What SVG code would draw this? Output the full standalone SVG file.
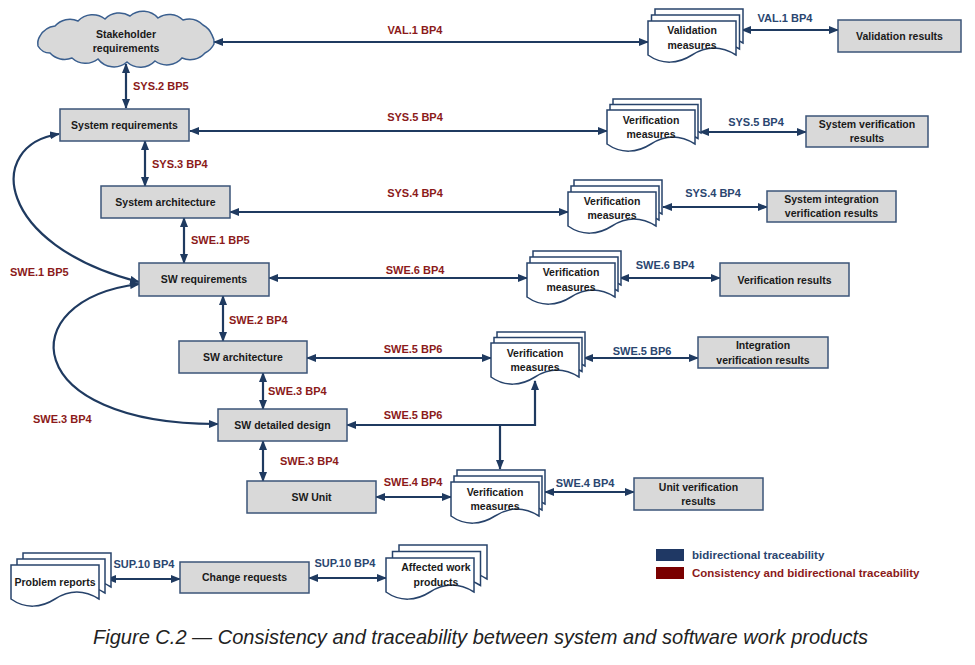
<svg xmlns="http://www.w3.org/2000/svg" xmlns:xlink="http://www.w3.org/1999/xlink" width="975" height="665" viewBox="0 0 975 665">
<style>
.box{fill:#d9d9d9;stroke:#3b5478;stroke-width:1.5}
.doc{fill:#fff;stroke:#27436b;stroke-width:1.5}
.n{font-family:"Liberation Sans",Arial,sans-serif;font-weight:bold;font-size:10.5px;fill:#1a1a1a;text-anchor:middle}
.l{font-family:"Liberation Sans",Arial,sans-serif;font-weight:bold;font-size:11px}
.r{fill:#8b1a1a}
.b{fill:#2a4670}
.m{text-anchor:middle}
.c{stroke:#1f3a60;stroke-width:2.2;fill:none}
.bi{marker-start:url(#ah);marker-end:url(#ah)}
.uni{marker-end:url(#ah)}
</style>
<defs>
<marker id="ah" viewBox="0 0 10 8" refX="9" refY="4" markerWidth="10" markerHeight="8" markerUnits="userSpaceOnUse" orient="auto-start-reverse">
<path d="M0,0 L10,4 L0,8 Z" fill="#1f3a60"/>
</marker>
<path id="docp" d="M0,0 H88 V34 C72,24 58,25 44,34 C30,43 14,44 0,34 Z"/>
</defs>
<rect width="975" height="665" fill="#fff"/>

<g id="connectors">
<path class="c bi" d="M126,64 V108"/>
<path class="c bi" d="M145,141 V186"/>
<path class="c bi" d="M184,218 V263"/>
<path class="c bi" d="M223,296 V341"/>
<path class="c bi" d="M263,373 V409"/>
<path class="c bi" d="M263,441 V481"/>
<path class="c bi" d="M214,42 H648"/>
<path class="c bi" d="M742,30 H838"/>
<path class="c bi" d="M190,131 H607"/>
<path class="c bi" d="M700,132 H806"/>
<path class="c bi" d="M230,212 H568"/>
<path class="c bi" d="M663,207 H767"/>
<path class="c bi" d="M269,278 H527"/>
<path class="c bi" d="M620,278 H720"/>
<path class="c bi" d="M307,358 H491"/>
<path class="c bi" d="M584,358 H698"/>
<path class="c bi" d="M347,425 H535 V381"/>
<path class="c uni" d="M500,425 V469"/>
<path class="c bi" d="M376,497 H451"/>
<path class="c bi" d="M545,492 H634"/>
<path class="c bi" d="M107,579 H180"/>
<path class="c bi" d="M309,578 H386"/>
<path class="c bi" d="M59,134 C-15,145 -5,245 139,282"/>
<path class="c bi" d="M139,284 C10,300 20,425 218,424"/>
</g>

<g id="labels">
<text class="l r m" x="415" y="34">VAL.1 BP4</text>
<text class="l b m" x="785" y="22">VAL.1 BP4</text>
<text class="l r" x="133" y="90">SYS.2 BP5</text>
<text class="l r m" x="415" y="121">SYS.5 BP4</text>
<text class="l b m" x="756" y="126">SYS.5 BP4</text>
<text class="l r" x="152" y="168">SYS.3 BP4</text>
<text class="l r m" x="415" y="197">SYS.4 BP4</text>
<text class="l b m" x="713" y="197">SYS.4 BP4</text>
<text class="l r" x="191" y="244">SWE.1 BP5</text>
<text class="l r" x="10" y="276">SWE.1 BP5</text>
<text class="l r m" x="415" y="274">SWE.6 BP4</text>
<text class="l b m" x="665" y="269">SWE.6 BP4</text>
<text class="l r" x="229" y="324">SWE.2 BP4</text>
<text class="l r m" x="413" y="353">SWE.5 BP6</text>
<text class="l b m" x="642" y="355">SWE.5 BP6</text>
<text class="l r" x="268" y="395">SWE.3 BP4</text>
<text class="l r" x="33" y="423">SWE.3 BP4</text>
<text class="l r m" x="413" y="419">SWE.5 BP6</text>
<text class="l r" x="280" y="465">SWE.3 BP4</text>
<text class="l r m" x="413" y="486">SWE.4 BP4</text>
<text class="l b m" x="585" y="487">SWE.4 BP4</text>
<text class="l b m" x="144" y="568">SUP.10 BP4</text>
<text class="l b m" x="345" y="567">SUP.10 BP4</text>
</g>

<g id="stakeholder">
<path d="M40,36 A20,20 0 0 1 55,26 A20,20 0 0 1 78,21 A20,20 0 0 1 105,19 A20,20 0 0 1 130,16 A20,20 0 0 1 158,18 A20,20 0 0 1 183,20 A20,20 0 0 1 203,25 A20,20 0 0 1 212,35 A14,14 0 0 1 214,44 A20,20 0 0 1 205,53 A20,20 0 0 1 182,58 A20,20 0 0 1 155,61 A20,20 0 0 1 127,62 A20,20 0 0 1 98,59 A20,20 0 0 1 72,58 A20,20 0 0 1 50,53 A14,14 0 0 1 38,46 A14,14 0 0 1 40,36 Z" fill="#d9d9d9" stroke="#3a5f8f" stroke-width="1.5"/>
<text class="n" x="126" y="38">Stakeholder</text>
<text class="n" x="126" y="52">requirements</text>
</g>

<g id="sysreq"><rect class="box" x="60" y="109" width="129" height="32"/><text class="n" x="124.5" y="129">System requirements</text></g>
<g id="sysarch"><rect class="box" x="101" y="186" width="129" height="32"/><text class="n" x="165.5" y="206">System architecture</text></g>
<g id="swreq"><rect class="box" x="139" y="263" width="130" height="33"/><text class="n" x="204" y="283">SW requirements</text></g>
<g id="swarch"><rect class="box" x="179" y="341" width="128" height="32"/><text class="n" x="243" y="361">SW architecture</text></g>
<g id="swdd"><rect class="box" x="218" y="409" width="129" height="32"/><text class="n" x="282.5" y="429">SW detailed design</text></g>
<g id="swunit"><rect class="box" x="247" y="481" width="129" height="32"/><text class="n" x="311.5" y="501">SW Unit</text></g>

<g id="valres"><rect class="box" x="838" y="20" width="123" height="32"/><text class="n" x="899.5" y="40">Validation results</text></g>
<g id="sysverres"><rect class="box" x="806" y="116" width="122" height="31"/><text class="n" x="867" y="128">System verification</text><text class="n" x="867" y="142">results</text></g>
<g id="sysintres"><rect class="box" x="767" y="191" width="129" height="31"/><text class="n" x="831.5" y="203">System integration</text><text class="n" x="831.5" y="217">verification results</text></g>
<g id="verres"><rect class="box" x="720" y="263" width="129" height="33"/><text class="n" x="784.5" y="284">Verification results</text></g>
<g id="intres"><rect class="box" x="698" y="337" width="130" height="31"/><text class="n" x="763" y="349">Integration</text><text class="n" x="763" y="364">verification results</text></g>
<g id="unitres"><rect class="box" x="634" y="478" width="129" height="32"/><text class="n" x="698.5" y="491">Unit verification</text><text class="n" x="698.5" y="505">results</text></g>
<g id="changereq"><rect class="box" x="180" y="562" width="129" height="31"/><text class="n" x="244.5" y="581">Change requests</text></g>

<g id="valmeas">
<use href="#docp" class="doc" x="655" y="9"/><use href="#docp" class="doc" x="651.5" y="15"/><use href="#docp" class="doc" x="648" y="21"/>
<text class="n" x="692" y="34">Validation</text><text class="n" x="692" y="49">measures</text>
</g>
<g id="sysvermeas">
<use href="#docp" class="doc" x="613" y="99"/><use href="#docp" class="doc" x="610" y="104.5"/><use href="#docp" class="doc" x="607" y="110"/>
<text class="n" x="651" y="124">Verification</text><text class="n" x="651" y="138">measures</text>
</g>
<g id="sysintmeas">
<use href="#docp" class="doc" x="574" y="180"/><use href="#docp" class="doc" x="571" y="186"/><use href="#docp" class="doc" x="568" y="192"/>
<text class="n" x="612" y="205">Verification</text><text class="n" x="612" y="219">measures</text>
</g>
<g id="swe6meas">
<use href="#docp" class="doc" x="533" y="251"/><use href="#docp" class="doc" x="530" y="257"/><use href="#docp" class="doc" x="527" y="263"/>
<text class="n" x="571" y="276">Verification</text><text class="n" x="571" y="291">measures</text>
</g>
<g id="swe5meas">
<use href="#docp" class="doc" x="497" y="332"/><use href="#docp" class="doc" x="494" y="337.5"/><use href="#docp" class="doc" x="491" y="343"/>
<text class="n" x="535" y="357">Verification</text><text class="n" x="535" y="371">measures</text>
</g>
<g id="swe4meas">
<use href="#docp" class="doc" x="457" y="470"/><use href="#docp" class="doc" x="454" y="476"/><use href="#docp" class="doc" x="451" y="482"/>
<text class="n" x="495" y="496">Verification</text><text class="n" x="495" y="510">measures</text>
</g>
<g id="probrep">
<use href="#docp" class="doc" x="23" y="553"/><use href="#docp" class="doc" x="17" y="559"/><use href="#docp" class="doc" x="11" y="565"/>
<text class="n" x="55" y="586">Problem reports</text>
</g>
<g id="affected">
<use href="#docp" class="doc" x="399" y="545"/><use href="#docp" class="doc" x="392.5" y="551.5"/><use href="#docp" class="doc" x="386" y="558"/>
<text class="n" x="436" y="571">Affected work</text><text class="n" x="436" y="586">products</text>
</g>

<g id="legend">
<rect x="656" y="549" width="28" height="12" fill="#1f3864"/>
<text x="692" y="559" font-family="Liberation Sans, Arial, sans-serif" font-weight="bold" font-size="11.5" fill="#2a4670">bidirectional traceability</text>
<rect x="656" y="567" width="28" height="12" fill="#7a0000"/>
<text x="692" y="577" font-family="Liberation Sans, Arial, sans-serif" font-weight="bold" font-size="11.5" fill="#8b1a1a">Consistency and bidirectional traceability</text>
</g>

<text x="93" y="644" textLength="775" lengthAdjust="spacingAndGlyphs" font-family="Liberation Sans, Arial, sans-serif" font-style="italic" font-size="21" fill="#222">Figure C.2 — Consistency and traceability between system and software work products</text>
</svg>
